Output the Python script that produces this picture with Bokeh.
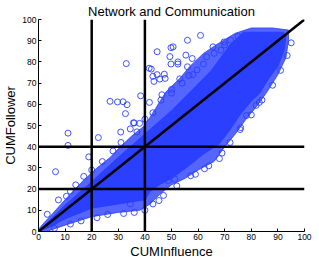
from bokeh.plotting import figure
from bokeh.models import Range1d, FixedTicker
from bokeh.embed import file_html
from bokeh.resources import INLINE

# ---- data ----
title_text = "Network and Communication"
x_label = "CUMInfluence"
y_label = "CUMFollower"
tick_values = [0, 10, 20, 30, 40, 50, 60, 70, 80, 90, 100]
axis_span = [0, 100]
thresholds = [20, 40]

# fully saturated core of the point cloud (outline of the solid blue area)
core_x = [0, 5, 10, 20, 30, 40, 42, 46, 50, 56, 62, 68, 72, 76, 80, 83, 86.5, 90, 92.5, 93, 92,
          77, 72, 65, 58, 50, 40, 30, 20, 10, 4]
core_y = [0, 2.5, 6, 11, 13, 15, 19, 22.5, 25, 30.5, 36.5, 41.5, 48, 55.5, 61.5, 65, 72, 78, 86, 92, 94,
          94, 88, 76, 67, 57, 46, 35, 23.5, 12.5, 5]

# dense band of overlapping circles around the core
halo_x = [0, 3, 10, 20, 30, 38, 42, 46, 50, 55, 60, 66, 70, 74, 78, 82, 86, 90, 93, 94, 94,
          88, 80, 74, 68, 62, 57, 53, 48, 44, 40, 35, 30, 27, 22, 16, 10, 5, 2, 0]
halo_y = [0, 0, 3, 7, 9, 10, 13, 18, 22, 25, 29, 33, 40, 46, 53, 59, 66, 74, 82, 90, 95,
          96, 96, 93.5, 89, 84, 78, 72, 66, 58, 50, 45, 39, 35, 30, 23, 15, 8, 4, 1]

# individually visible circles
pts_x = [33, 44.6, 49.8, 49.4, 49.8, 41.6, 42.4, 43, 44.6, 43.4, 45.6, 47.3, 47.6,
         26.9, 29.7, 31.8, 33.3, 32.7, 38.4, 41.7, 46.4, 50, 36, 38, 30.9, 34.5, 35.7,
         52.4, 56, 53.1, 56.6, 59.6, 60.9, 56, 65.6, 55.4, 57.8, 52.4, 50.6, 69.8, 72.2,
         63.2, 68.6,
         11.1, 11.1, 22.5, 6.4, 7.5, 3.3, 10.5, 18.9,
         68, 62.4, 57.2, 51.2, 48.8, 78.2, 75.8, 83, 81.8, 83.6, 87.7, 34.5, 45.3,
         12, 14, 17, 20, 24, 28, 31, 37, 40, 43, 46, 50, 54, 58, 62, 66, 70, 75,
         6, 12, 16, 22, 26, 32, 36, 40, 43, 47, 52, 59, 64, 69, 72, 76, 80, 84, 88, 91, 93.5, 95]
pts_y = [79.2, 84.8, 86.7, 82.5, 79, 77, 76.6, 73.2, 74, 70.8, 71.9, 74.2, 72.2,
         61.4, 61.1, 61.2, 59.8, 55.6, 64, 60.9, 64.5, 65.3, 51.2, 51, 46.9, 48.4, 51.3,
         79, 77.7, 72, 73.6, 76.2, 92.5, 90.2, 87.1, 83.2, 81.6, 80, 87.1, 89.4, 90.2,
         82.4, 85.5,
         46.4, 40.6, 44.3, 28.2, 14.9, 8.1, 16.6, 35.2,
         34.4, 29.6, 26.3, 24.7, 24, 54.7, 48.1, 60.9, 59.5, 69.6, 77, 13, 14.6,
         19, 22, 26, 29, 33, 38, 42, 47, 53, 56, 62, 67, 70, 74, 79, 84, 88, 92,
         1.5, 3.5, 5, 6.5, 8, 8.5, 9, 10, 13, 17, 21.5, 27, 31, 37, 42, 49, 55, 62, 69, 76, 83, 89]

blue = "#2a3fff"
font = "Liberation Sans"

p = figure(frame_width=266, frame_height=212, output_backend="svg", toolbar_location=None,
           x_range=Range1d(*axis_span), y_range=Range1d(*axis_span),
           min_border_left=2, min_border_right=8, min_border_top=0, min_border_bottom=0)
p.title.text = title_text
p.title.align = "center"
p.title.text_font = font
p.title.text_font_size = "13px"
p.title.text_font_style = "normal"
p.title.text_color = "#000000"
p.title.standoff = 2

p.grid.visible = False
p.outline_line_color = None
p.background_fill_color = "white"
p.border_fill_color = "white"

for ax in (p.xaxis[0], p.yaxis[0]):
    ax.ticker = FixedTicker(ticks=tick_values)
    ax.major_tick_in = 3
    ax.major_tick_out = 0
    ax.minor_tick_line_color = None
    ax.axis_line_color = "#000000"
    ax.major_tick_line_color = "#000000"
    ax.major_label_text_font = font
    ax.major_label_text_font_size = "8.5px"
    ax.major_label_text_color = "#000000"
    ax.major_label_standoff = 2
    ax.axis_label_text_font = font
    ax.axis_label_text_font_size = "13px"
    ax.axis_label_text_font_style = "normal"
    ax.axis_label_text_color = "#000000"
    ax.axis_label_standoff = 1

p.xaxis.axis_label = x_label
p.yaxis.axis_label = y_label

p.patch(halo_x, halo_y, fill_color=blue, fill_alpha=0.8, line_color=blue, line_alpha=0.8, line_width=1)
p.patch(core_x, core_y, fill_color=blue, line_color=blue, line_width=1)
p.scatter(pts_x, pts_y, marker="circle", size=6, fill_color=None, line_color=blue, line_width=0.9)

lo, hi = axis_span
n = len(thresholds)
# vertical thresholds
p.segment(x0=thresholds, y0=[lo] * n, x1=thresholds, y1=[hi] * n, line_color="black", line_width=2.5)
# horizontal thresholds
p.segment(x0=[lo] * n, y0=thresholds, x1=[hi] * n, y1=thresholds, line_color="black", line_width=2.5)
# diagonal y = x
p.line(axis_span, axis_span, line_color="black", line_width=2.5)

open("out.html", "w").write(file_html(p, INLINE))
